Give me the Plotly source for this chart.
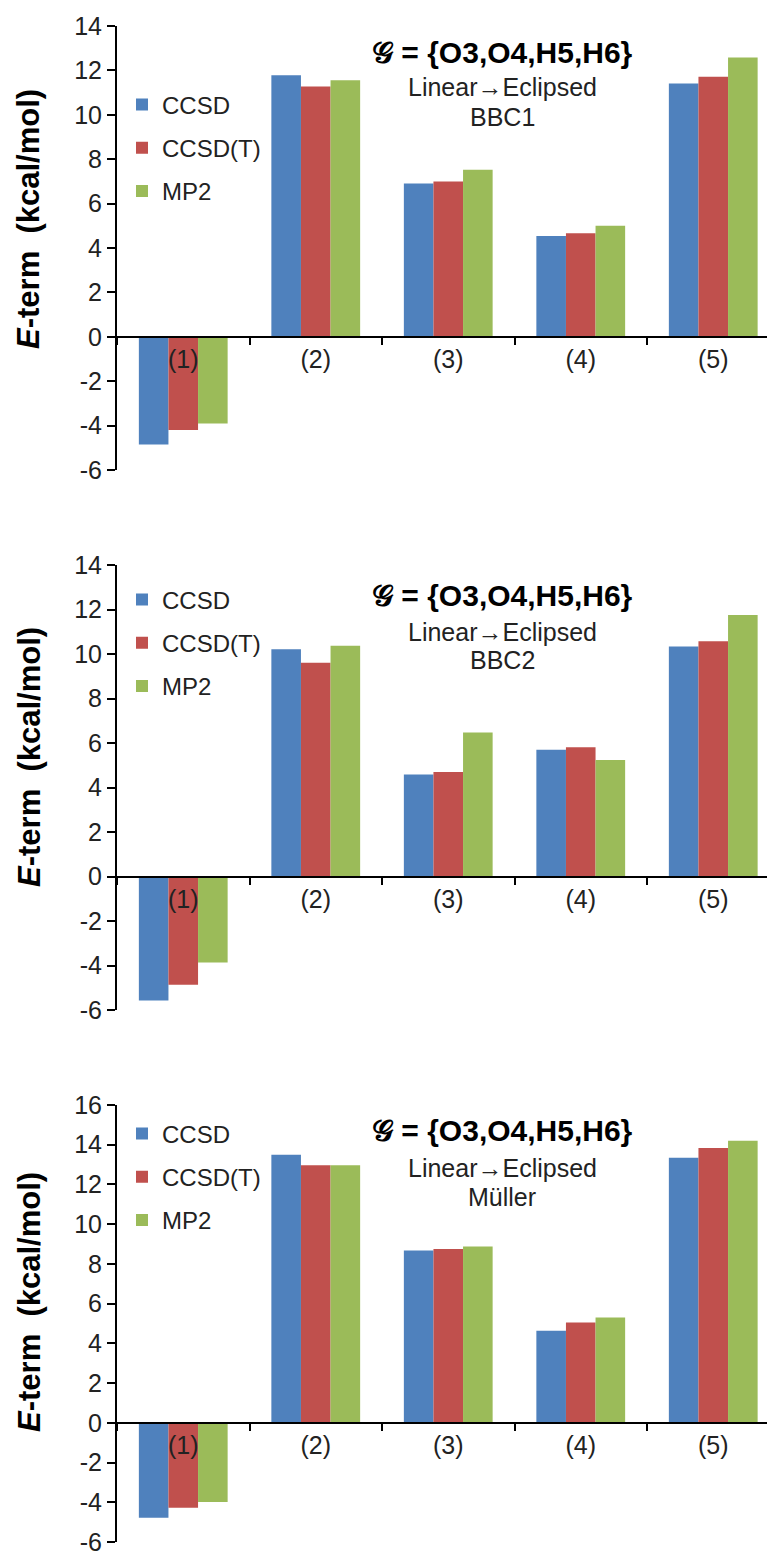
import plotly.graph_objects as go

categories = ["(1)", "(2)", "(3)", "(4)", "(5)"]
series_names = ["CCSD", "CCSD(T)", "MP2"]
colors = ["#4F81BD", "#C0504D", "#9BBB59"]

# Panel 1: BBC1
bbc1_ccsd = [-4.85, 11.78, 6.90, 4.54, 11.41]
bbc1_ccsdt = [-4.20, 11.27, 7.00, 4.66, 11.71]
bbc1_mp2 = [-3.90, 11.56, 7.53, 5.00, 12.58]
# Panel 2: BBC2
bbc2_ccsd = [-5.57, 10.21, 4.58, 5.70, 10.34]
bbc2_ccsdt = [-4.87, 9.61, 4.70, 5.81, 10.57]
bbc2_mp2 = [-3.86, 10.37, 6.47, 5.24, 11.75]
# Panel 3: Müller
muller_ccsd = [-4.78, 13.50, 8.68, 4.63, 13.35]
muller_ccsdt = [-4.28, 12.97, 8.75, 5.05, 13.83]
muller_mp2 = [-3.98, 12.97, 8.88, 5.30, 14.20]

panel_labels = ["BBC1", "BBC2", "Müller"]
panel_data = [
    [bbc1_ccsd, bbc1_ccsdt, bbc1_mp2],
    [bbc2_ccsd, bbc2_ccsdt, bbc2_mp2],
    [muller_ccsd, muller_ccsdt, muller_mp2],
]
y_ranges = [[-6, 14], [-6, 14], [-6, 16]]
y_ticks = [list(range(-6, 15, 2)), list(range(-6, 15, 2)), list(range(-6, 17, 2))]

# the page body has an 8px margin; figure is sized/positioned to compensate
OFF = 8
W, H = 775 - OFF, 1555 - OFF
L = 117 - OFF
CAT_PX = 132.5
# page-pixel layout positions
px_top = [26, 565, 1105]
px_bot = [470, 1010, 1542]
title_px = [219, 757, 1302]
ann_px = [(52, 87, 117), (595, 632, 660), (1130, 1168, 1197)]
legend_px = [148, 643, 1177]

def py(p):
    return 1 - (p - OFF) / H

def pxx(p):
    return (p - OFF - L) / (W - L)

fig = go.Figure()
font_family = "Arial, Liberation Sans, DejaVu Sans, sans-serif"

for i in range(3):
    sfx = "" if i == 0 else str(i + 1)
    xref = "x" + sfx
    yref = "y" + sfx
    leg = "legend" + sfx
    for j in range(3):
        fig.add_trace(go.Bar(
            x=categories, y=panel_data[i][j], name=series_names[j],
            marker=dict(color=colors[j], line=dict(width=0)),
            xaxis=xref, yaxis=yref, legend=leg,
            legendgroup=f"p{i}s{j}",
        ))
    d0, d1 = py(px_bot[i]), py(px_top[i])
    r0, r1 = y_ranges[i]
    zero_pos = d0 + (0 - r0) / (r1 - r0) * (d1 - d0)
    fig.layout["xaxis" + sfx] = dict(
        domain=[0, 1], anchor="free", position=zero_pos, automargin=False,
        type="category", range=[-0.5, -0.5 + (W - L) / CAT_PX],
        tickson="boundaries", ticks="outside", ticklen=7, tickwidth=2,
        tickcolor="black", showline=True, linecolor="black", linewidth=2,
        showgrid=False, zeroline=False, ticklabeloverflow="allow",
        tickfont=dict(size=25, color="#222", family=font_family),
    )
    fig.layout["yaxis" + sfx] = dict(
        domain=[d0, d1], anchor=xref, range=y_ranges[i], automargin=False,
        tickvals=y_ticks[i], ticktext=[str(v) for v in y_ticks[i]],
        ticks="outside", ticklen=8, tickwidth=2, tickcolor="black",
        showline=True, linecolor="black", linewidth=2,
        showgrid=False, zeroline=False, ticklabeloverflow="allow",
        tickfont=dict(size=25, color="#222", family=font_family),
    )
    fig.layout[leg] = dict(
        x=5 / (W - L), xanchor="left", y=py(legend_px[i]), yanchor="middle",
        bgcolor="rgba(0,0,0,0)", font=dict(size=24, color="#222", family=font_family),
        traceorder="grouped", tracegroupgap=9,
    )
    # y axis title
    fig.add_annotation(
        text="<b><i>E</i>-term\u00a0\u00a0(kcal/mol)</b>", textangle=-90,
        xref="paper", yref="paper", x=pxx(29), y=py(title_px[i]),
        xanchor="center", yanchor="middle", showarrow=False,
        font=dict(size=31, color="black", family=font_family),
    )
    gy, ly, by = ann_px[i]
    xc = pxx(502)
    fig.add_annotation(
        text="<b>𝒢 = {O3,O4,H5,H6}</b>", xref="paper", yref="paper",
        x=xc, y=py(gy), xanchor="center", yanchor="middle", showarrow=False,
        font=dict(size=30, color="black", family=font_family),
    )
    fig.add_annotation(
        text="Linear→Eclipsed", xref="paper", yref="paper",
        x=xc, y=py(ly), xanchor="center", yanchor="middle", showarrow=False,
        font=dict(size=25, color="#222", family=font_family),
    )
    fig.add_annotation(
        text=panel_labels[i], xref="paper", yref="paper",
        x=xc, y=py(by), xanchor="center", yanchor="middle", showarrow=False,
        font=dict(size=25, color="#222", family=font_family),
    )

fig.update_layout(
    width=W, height=H, barmode="group", bargap=0.33, bargroupgap=0,
    margin=dict(l=L, r=0, t=0, b=0, autoexpand=False),
    plot_bgcolor="white", paper_bgcolor="white",
    font=dict(family=font_family),
)

fig.write_html("out.html")
